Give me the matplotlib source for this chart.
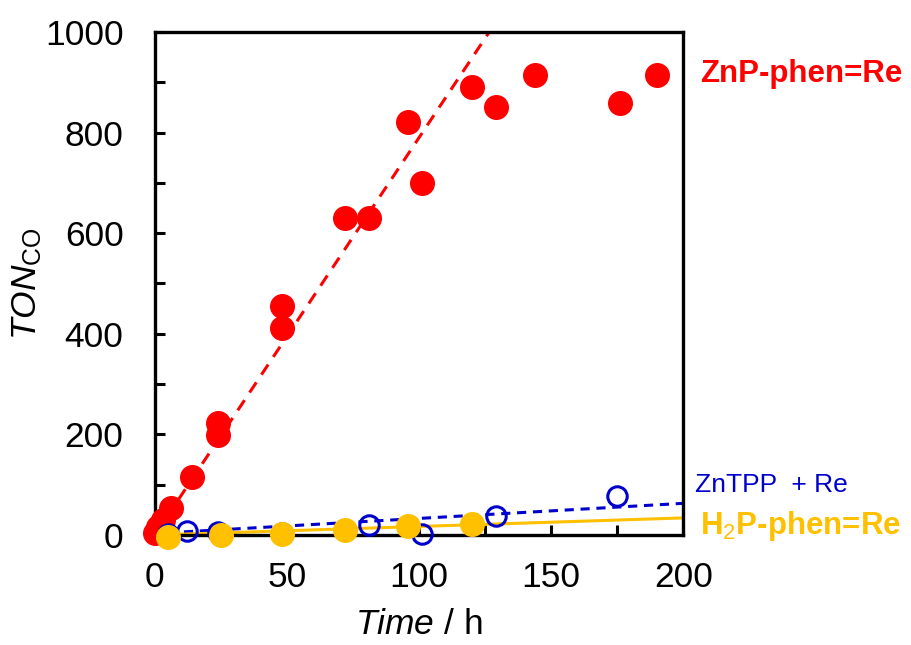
import matplotlib
matplotlib.use("Agg")
import matplotlib.pyplot as plt
import numpy as np

plt.rcParams['font.family'] = ['Liberation Sans', 'DejaVu Sans']
plt.rcParams['mathtext.fontset'] = 'custom'
plt.rcParams['mathtext.rm'] = 'Liberation Sans'
plt.rcParams['mathtext.it'] = 'Liberation Sans:italic'
plt.rcParams['mathtext.bf'] = 'Liberation Sans:bold'

# ZnP-phen=Re
znp_t = [0, 1, 3, 6, 14, 24, 24, 48, 48, 72, 81, 96, 101, 120, 129, 144, 176, 190]
znp_ton = [4, 16, 30, 54, 116, 198, 222, 412, 455, 630, 630, 820, 700, 890, 850, 915, 858, 915]

# ZnTPP + Re
zntpp_t = [5, 12, 24, 48, 72, 81, 101, 129, 175]
zntpp_ton = [3, 8, 7, 5, 10, 20, 3, 38, 78]

# H2P-phen=Re
h2p_t = [5, 25, 48, 72, 96, 120]
h2p_ton = [-3, 0, 3, 10, 18, 22]

# linear fits: (slope, intercept, start time)
znp_fit = (7.9, 0.0, 0.0)
zntpp_fit = (0.30, 3.0, 5.0)
h2p_fit = (0.17, 0.0, 5.0)

RED = '#FF0000'
BLUE = '#0000CC'
GOLD = '#FFC000'

fig = plt.figure(figsize=(9.11, 6.45), dpi=100)
ax = fig.add_axes([0.170, 0.1705, 0.580, 0.780])

def fit_line(fit, t_end=200):
    k, b, t0 = fit
    t = np.array([t0, t_end])
    return t, k * t + b

t, y = fit_line(znp_fit)
ax.plot(t, y, color=RED, lw=2.2, ls=(0, (4, 3)), zorder=2)
t, y = fit_line(zntpp_fit)
ax.plot(t, y, color=BLUE, lw=2.2, ls=(0, (3, 2.2)), zorder=2)
t, y = fit_line(h2p_fit)
ax.plot(t, y, color=GOLD, lw=2.2, ls='-', zorder=2)

ax.plot(znp_t, znp_ton, 'o', color=RED, ms=17, mec=RED, zorder=3, clip_on=False)
ax.plot(zntpp_t, zntpp_ton, 'o', mfc='none', mec=BLUE, mew=2.2, ms=14, zorder=4, clip_on=False)
ax.plot(h2p_t, h2p_ton, 'o', color=GOLD, ms=17, mec=GOLD, zorder=5, clip_on=False)

ax.set_xlim(0, 200)
ax.set_ylim(0, 1000)
ax.set_xticks(np.arange(0, 201, 50))
ax.set_xticks(np.arange(0, 201, 25), minor=True)
ax.set_yticks(np.arange(0, 1001, 200))
ax.set_yticks(np.arange(0, 1001, 100), minor=True)
ax.tick_params(which='both', direction='in', labelsize=25.5, width=2.2, length=7)
ax.tick_params(axis='y', which='major', pad=22.5)
ax.tick_params(axis='x', which='major', pad=19)
for s in ax.spines.values():
    s.set_linewidth(2.4)

ax.set_xlabel(r'$\mathit{Time}$ / h', fontsize=25.5, labelpad=10)
ax.set_ylabel(r'$\mathit{TON}_{\mathrm{CO}}$', fontsize=25.5, labelpad=1)

ax.text(1.032, 0.917, 'ZnP-phen=Re', transform=ax.transAxes, color=RED,
        fontsize=22.5, fontweight='bold', va='center', ha='left')
ax.text(1.023, 0.1, 'ZnTPP  + Re', transform=ax.transAxes, color=BLUE,
        fontsize=19, va='center', ha='left')
ax.text(1.032, 0.018, r'H$_2$P-phen=Re', transform=ax.transAxes, color=GOLD,
        fontsize=22.5, fontweight='bold', va='center', ha='left')

fig.savefig('out.png', dpi=100)
